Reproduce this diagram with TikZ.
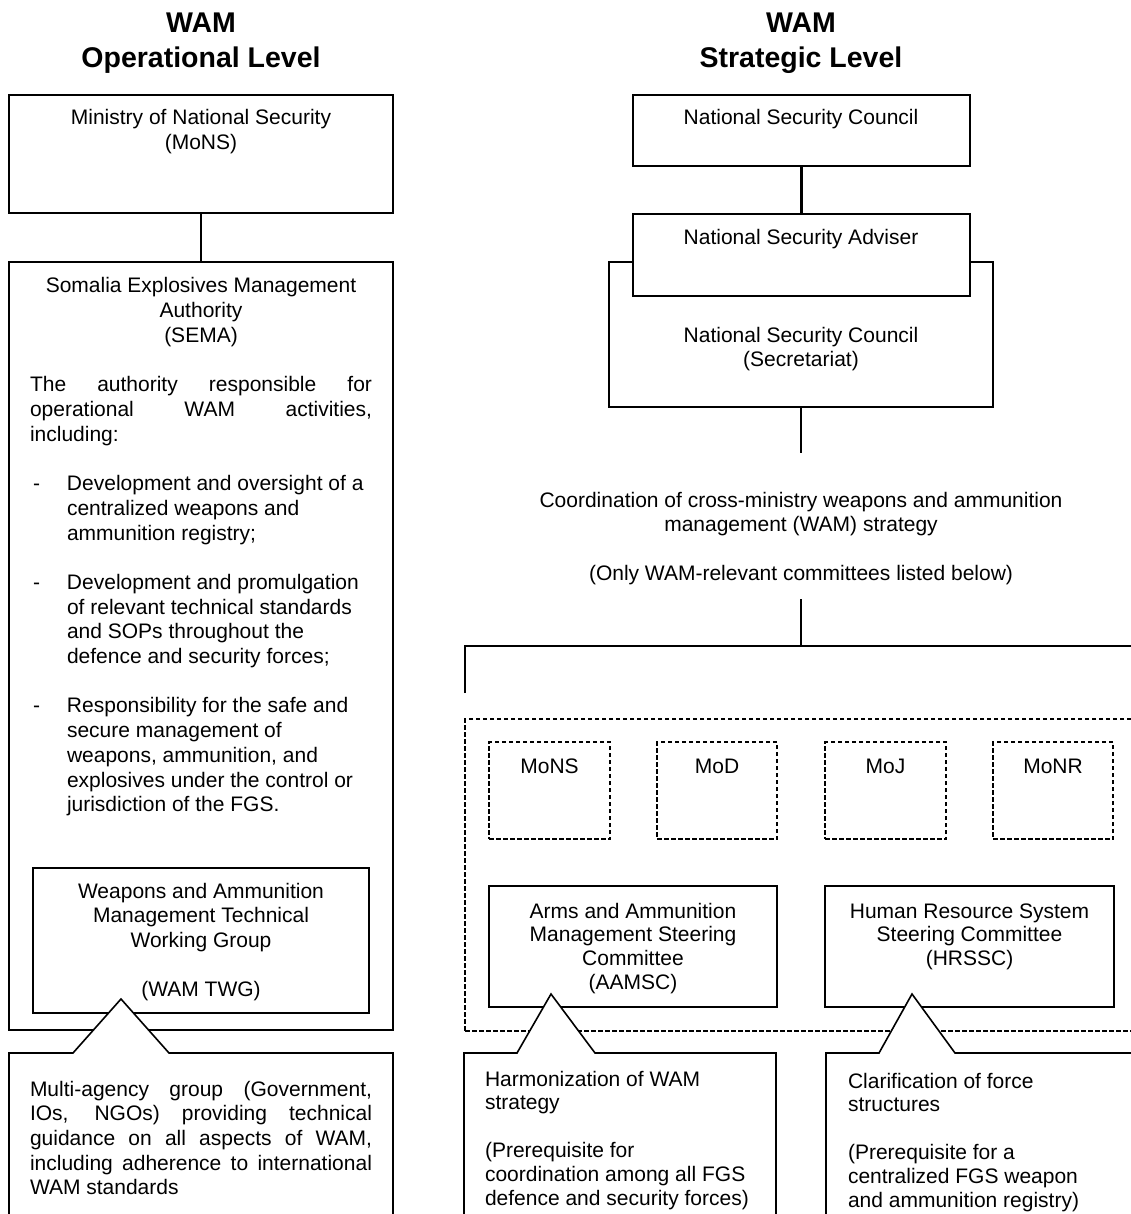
\documentclass[tikz,border=0pt]{standalone}
\usepackage{fontspec}
\setmainfont{Liberation Sans}
\usetikzlibrary{fit}
\newcommand\ctext[1]{\begin{tabular}[t]{@{}c@{}}#1\end{tabular}}
\newcommand\ltext[1]{\begin{tabular}[t]{@{}l@{}}#1\end{tabular}}
\begin{document}
\begin{tikzpicture}[x=1pt,y=-1pt,
  box/.style={draw, line width=1.6pt, fill=white, inner sep=0pt, outer sep=0pt},
  dbox/.style={draw, line width=1.2pt, dash pattern=on 4.5pt off 2.5pt, inner sep=0pt, outer sep=0pt},
  conn/.style={draw, line width=2.2pt},
  callout/.style={draw, line width=1.6pt, fill=white, line join=miter},
  txt/.style={inner sep=0pt, outer sep=0pt, font=\fontsize{21}{24.7}\selectfont},
  rtxt/.style={inner sep=0pt, outer sep=0pt, font=\fontsize{21}{23.8}\selectfont},
  ttl/.style={inner sep=0pt, outer sep=0pt, font=\bfseries\fontsize{28.5}{35}\selectfont}]
\useasboundingbox (0,0) rectangle (1131,1214);
\clip (0,0) rectangle (1131,1214);

% ---------- left column ----------
\node[ttl, anchor=base] (titleL) at (201,33) {\ctext{WAM\\Operational Level}};
\node[box, fit={(9,95)(393,213)}] (mons) {};
\node[box, fit={(9,262)(393,1030)}] (sema) {};
\node[box, fit={(33,868)(369,1013)}] (twg) {};
\draw[conn] (mons.south) -- (sema.north);
\draw[callout] (9,1053) -- (73,1053) -- (121,999) -- (169,1053) -- (393,1053) -- (393,1240) -- (9,1240) -- cycle;

\node[txt, anchor=base] (monsT) at (201,125) {\ctext{Ministry of National Security\\(MoNS)}};
\node[txt, anchor=base] (semaT) at (201,293) {\ctext{Somalia Explosives Management\\Authority\\(SEMA)}};
\node[txt, anchor=base west] (semaP) at (30,391.8) {\parbox[t]{342pt}{\tolerance=10000 The authority responsible for\linebreak operational WAM activities,\linebreak including:}};
\node[txt, anchor=base west] (semaB) at (33,490.6) {\begin{tabular}[t]{@{}p{34pt}@{}l@{}}
-&Development and oversight of a\\
&centralized weapons and\\
&ammunition registry;\\
&\\
-&Development and promulgation\\
&of relevant technical standards\\
&and SOPs throughout the\\
&defence and security forces;\\
&\\
-&Responsibility for the safe and\\
&secure management of\\
&weapons, ammunition, and\\
&explosives under the control or\\
&jurisdiction of the FGS.
\end{tabular}};
\node[txt, anchor=base] (twgT) at (201,898) {\ctext{Weapons and Ammunition\\Management Technical\\Working Group\\ \\(WAM TWG)}};
\node[txt, anchor=base west] (twgC) at (30,1096) {\parbox[t]{342pt}{\tolerance=10000 Multi-agency group (Government,\linebreak IOs, NGOs) providing technical\linebreak guidance on all aspects of WAM,\linebreak including adherence to international\linebreak WAM standards}};

% ---------- right column ----------
\node[ttl, anchor=base] (titleR) at (801,33) {\ctext{WAM\\Strategic Level}};
\node[box, fit={(633,95)(970,166)}] (nsc) {};
\node[box, fit={(609,262)(993,407)}] (secr) {};
\node[box, fit={(633,214)(970,296)}] (nsa) {};
\draw[conn] (nsc.south) -- (nsa.north);
\coordinate (c1) at (801,453);
\draw[conn] (secr.south) -- (c1);
\coordinate (c3) at (801,599);
\coordinate (barM) at (801,646);
\coordinate (barL) at (465,646);
\coordinate (barR) at (1160,646);
\coordinate (barLd) at (465,693);
\coordinate (barRd) at (1160,693);
\draw[conn] (c3) -- (barM);
\draw[conn] (barLd) -- (barL) -- (barR) -- (barRd);

\node[dbox, fit={(465,719)(1160,1031)}] (grp) {};
\node[dbox, fit={(489,742)(610,839)}] (m1) {};
\node[dbox, fit={(657,742)(777,839)}] (m2) {};
\node[dbox, fit={(825,742)(946,839)}] (m3) {};
\node[dbox, fit={(993,742)(1113,839)}] (m4) {};
\node[box, fit={(489,886)(777,1007)}] (aamsc) {};
\node[box, fit={(825,886)(1114,1007)}] (hrssc) {};
\draw[callout] (464,1053) -- (517,1053) -- (551,994) -- (595,1053) -- (776,1053) -- (776,1240) -- (464,1240) -- cycle;
\draw[callout] (826,1053) -- (879,1053) -- (912,994) -- (955,1053) -- (1160,1053) -- (1160,1240) -- (826,1240) -- cycle;

\node[txt, anchor=base] (nscT) at (801,125) {National Security Council};
\node[txt, anchor=base] (nsaT) at (801,245) {National Security Adviser};
\node[txt, anchor=base] (secrT) at (801,342) {\ctext{National Security Council\\(Secretariat)}};
\node[inner sep=0pt, font=\fontsize{21}{24.4}\selectfont, anchor=base] (coordT) at (801,507) {\ctext{Coordination of cross-ministry weapons and ammunition\\management (WAM) strategy\\ \\(Only WAM-relevant committees listed below)}};
\node[txt, anchor=base] (m1T) at (549.5,773) {MoNS};
\node[txt, anchor=base] (m2T) at (717,773) {MoD};
\node[txt, anchor=base] (m3T) at (885.5,773) {MoJ};
\node[txt, anchor=base] (m4T) at (1053,773) {MoNR};
\node[rtxt, anchor=base] (aamscT) at (633,918) {\ctext{Arms and Ammunition\\Management Steering\\Committee\\(AAMSC)}};
\node[rtxt, anchor=base] (hrsscT) at (969.5,918) {\ctext{Human Resource System\\Steering Committee\\(HRSSC)}};
\node[rtxt, anchor=base west] (aamscC) at (485,1086) {\ltext{Harmonization of WAM\\strategy\\ \\(Prerequisite for\\coordination among all FGS\\defence and security forces)}};
\node[rtxt, anchor=base west] (hrsscC) at (848,1088) {\ltext{Clarification of force\\structures\\ \\(Prerequisite for a\\centralized FGS weapon\\and ammunition registry)}};
\end{tikzpicture}
\end{document}
